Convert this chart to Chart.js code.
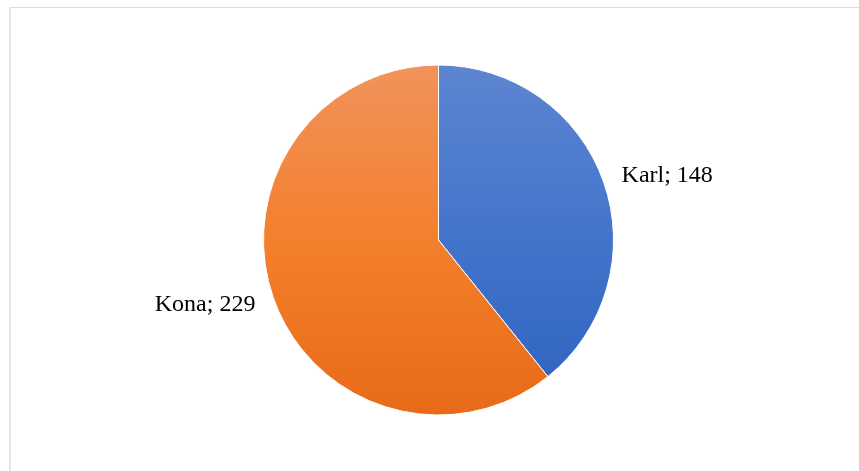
<!DOCTYPE html>
<html>
<head>
<meta charset="utf-8">
<script src="https://cdn.jsdelivr.net/npm/chart.js@4/dist/chart.umd.min.js"></script>
<style>
  html, body { margin: 0; padding: 0; background: #fff; overflow: hidden; }
  #frame {
    position: absolute; left: 9px; top: 7px; width: 900px; height: 500px;
    border-top: 1px solid #dcdcdc; border-left: 2px solid #e4e6ea;
  }
  #pie { position: absolute; left: 0; top: 0; }
</style>
</head>
<body>
<div id="frame"></div>
<canvas id="pie" width="859" height="471"></canvas>
<script>
'use strict';

var labels = ['Karl', 'Kona'];
var values = [148, 229];
// top / middle / bottom colour of each slice's vertical gradient
var topColors = ['#5d85d1', '#f2925c'];
var midColors = ['#4374cb', '#f3802c'];
var bottomColors = ['#2d62bf', '#e86a18'];

function sliceGradient(context) {
  var chart = context.chart;
  var area = chart.chartArea;
  var i = context.dataIndex;
  if (!area) return topColors[i];
  var g = chart.ctx.createLinearGradient(0, area.top, 0, area.bottom);
  g.addColorStop(0, topColors[i]);
  g.addColorStop(0.5, midColors[i]);
  g.addColorStop(1, bottomColors[i]);
  return g;
}

// "name; value" labels just outside each slice
var outsideLabels = {
  id: 'outsideLabels',
  afterDatasetsDraw: function (chart) {
    var ctx = chart.ctx;
    var meta = chart.getDatasetMeta(0);
    ctx.save();
    ctx.font = '24px "Liberation Serif", "Times New Roman", serif';
    ctx.fillStyle = '#000';
    ctx.textBaseline = 'middle';
    meta.data.forEach(function (arc, i) {
      var mid = (arc.startAngle + arc.endAngle) / 2;
      var r = arc.outerRadius + 19;
      var x = arc.x + Math.cos(mid) * r;
      var y = arc.y + Math.sin(mid) * r;
      ctx.textAlign = Math.cos(mid) >= 0 ? 'left' : 'right';
      ctx.fillText(labels[i] + '; ' + values[i], x, y);
    });
    ctx.restore();
  }
};

var ctx = document.getElementById('pie').getContext('2d');
var pieChart = new Chart(ctx, {
  type: 'pie',
  data: {
    labels: labels,
    datasets: [{
      data: values,
      backgroundColor: sliceGradient,
      borderColor: '#ffffff',
      borderWidth: 1,
      hoverOffset: 0
    }]
  },
  options: {
    responsive: false,
    animation: false,
    layout: { padding: { left: 263, right: 245, top: 64, bottom: 55 } },
    plugins: {
      legend: { display: false },
      tooltip: { enabled: false }
    }
  },
  plugins: [outsideLabels]
});
</script>
</body>
</html>
